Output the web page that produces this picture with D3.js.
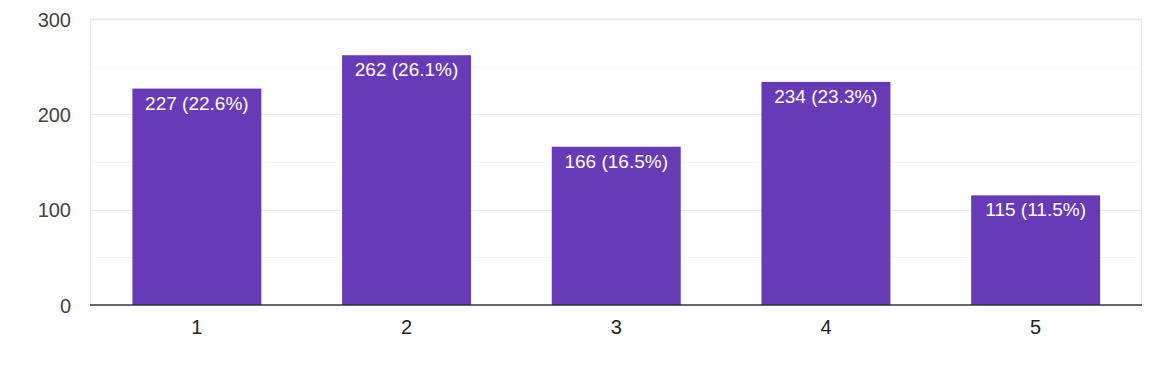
<!DOCTYPE html>
<html><head><meta charset="utf-8">
<script src="https://cdn.jsdelivr.net/npm/d3@7"></script>
<style>body{margin:0;background:#fff}svg{display:block}</style>
</head><body><svg id="c" width="1157" height="387"></svg>
<script>
const categories = ["1","2","3","4","5"];
const values = [227, 262, 166, 234, 115];
const percents = ["22.6%","26.1%","16.5%","23.3%","11.5%"];
const majorTicks = [0, 100, 200, 300];
const minorTicks = [50, 150, 250];

const svg = d3.select("#c");
const L = 90, R = 1141, T = 19, B = 305;
const x = d3.scaleBand().domain(categories).range([91.5, 1141]).paddingInner(0.385).paddingOuter(0.195);
const y = d3.scaleLinear().domain([0, 300]).range([B, T]);
const font = "'Liberation Sans', Arial, sans-serif";

svg.append("g").selectAll("line").data(minorTicks).join("line")
  .attr("x1", L).attr("x2", R).attr("y1", d => Math.round(y(d))+0.5).attr("y2", d => Math.round(y(d))+0.5)
  .attr("stroke", "#f5f5f5").attr("stroke-width", 1);
svg.append("g").selectAll("line").data(majorTicks.filter(d => d > 0)).join("line")
  .attr("x1", L).attr("x2", R).attr("y1", d => Math.round(y(d))+0.5).attr("y2", d => Math.round(y(d))+0.5)
  .attr("stroke", "#ebebeb").attr("stroke-width", d => d === 300 ? 2 : 1);
svg.append("line").attr("x1", L+0.5).attr("x2", L+0.5).attr("y1", T).attr("y2", B).attr("stroke", "#ebebeb");
svg.append("line").attr("x1", R+0.5).attr("x2", R+0.5).attr("y1", T).attr("y2", B).attr("stroke", "#ebebeb");

svg.append("g").selectAll("rect").data(values).join("rect")
  .attr("x", (d,i) => x(categories[i])).attr("width", x.bandwidth())
  .attr("y", d => y(d)).attr("height", d => B - y(d))
  .attr("fill", "#673ab7");

svg.append("g").selectAll("text").data(values).join("text")
  .attr("x", (d,i) => x(categories[i]) + x.bandwidth()/2)
  .attr("y", d => y(d) + 21)
  .attr("text-anchor", "middle").attr("fill", "#fff")
  .attr("font-family", font).attr("font-size", 19)
  .text((d,i) => `${d} (${percents[i]})`);

svg.append("line").attr("x1", L).attr("x2", R+1).attr("y1", B).attr("y2", B)
  .attr("stroke", "#333").attr("stroke-width", 1.5);

svg.append("g").selectAll("text").data(majorTicks).join("text")
  .attr("x", 71).attr("y", d => y(d) + 7.5)
  .attr("text-anchor", "end").attr("fill", "#444")
  .attr("font-family", font).attr("font-size", 20)
  .text(d => d);

svg.append("g").selectAll("text").data(categories).join("text")
  .attr("x", d => x(d) + x.bandwidth()/2).attr("y", 334)
  .attr("text-anchor", "middle").attr("fill", "#222")
  .attr("font-family", font).attr("font-size", 20)
  .text(d => d);
</script></body></html>
